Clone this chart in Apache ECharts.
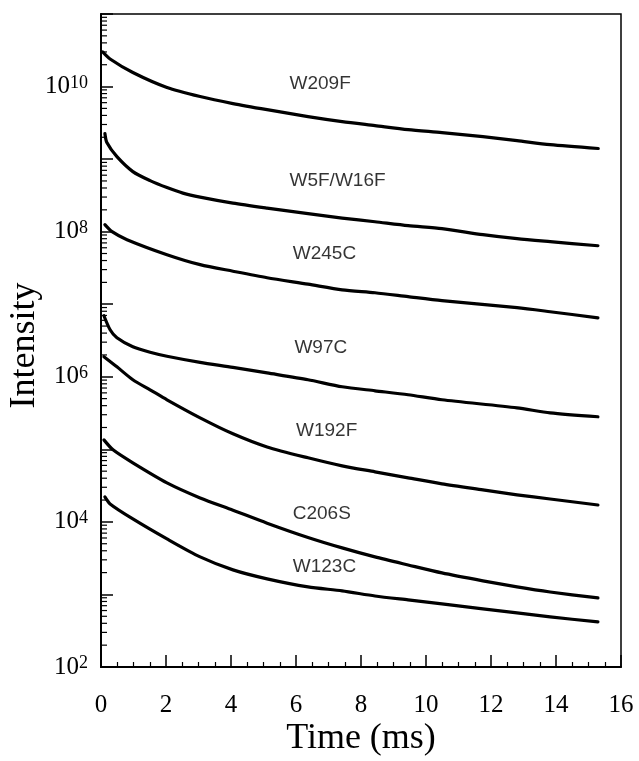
<!DOCTYPE html>
<html><head><meta charset="utf-8">
<script src="https://cdn.jsdelivr.net/npm/echarts@6/dist/echarts.min.js"></script>
<style>html,body{margin:0;padding:0;background:#fff}#c{width:639px;height:761px}</style>
</head><body><div id="c"></div>
<script>
// Data (time in ms, intensity)
const seriesNames = ['W209F', 'W5F/W16F', 'W245C', 'W97C', 'W192F', 'C206S', 'W123C'];
const W209F = [[0.05,3.0e10],[0.28,2.4e10],[0.98,1.56e10],[2.03,9.7e9],[3.05,7.28e9],[4.06,5.83e9],[5.11,4.8e9],[6.37,3.86e9],[7.42,3.29e9],[8.43,2.9e9],[9.45,2.55e9],[10.49,2.32e9],[11.75,2.04e9],[12.8,1.8e9],[13.82,1.58e9],[15.3,1.4e9]];
const W5F_W16F = [[0.12,2.25e9],[0.18,1.69e9],[0.49,1.08e9],[0.98,6.73e8],[1.51,5.05e8],[2.03,4.05e8],[2.52,3.4e8],[3.05,2.99e8],[4.06,2.47e8],[5.11,2.11e8],[6.37,1.77e8],[7.42,1.54e8],[8.43,1.37e8],[9.45,1.21e8],[10.49,1.1e8],[11.75,9.1e7],[12.8,8.0e7],[13.82,7.28e7],[15.29,6.4e7]];
const W245C = [[0.12,1.25e8],[0.34,1.0e8],[0.8,7.76e7],[2.03,4.82e7],[3.05,3.51e7],[4.06,2.85e7],[5.11,2.32e7],[6.37,1.89e7],[7.42,1.58e7],[8.43,1.44e7],[9.45,1.27e7],[10.49,1.12e7],[12.8,8.95e6],[13.82,7.88e6],[15.29,6.5e6]];
const W97C = [[0.09,6.94e6],[0.28,4.45e6],[0.49,3.45e6],[0.98,2.59e6],[1.51,2.18e6],[2.03,1.92e6],[3.05,1.58e6],[4.06,1.35e6],[5.11,1.13e6],[6.37,9.1e5],[7.42,7.28e5],[8.43,6.41e5],[9.45,5.65e5],[10.49,4.82e5],[12.8,3.73e5],[13.82,3.18e5],[15.29,2.81e5]];
const W192F = [[0.09,1.89e6],[0.49,1.37e6],[0.98,9.1e5],[1.51,6.62e5],[2.03,4.82e5],[3.05,2.72e5],[4.06,1.64e5],[5.11,1.08e5],[6.37,7.64e4],[7.42,5.92e4],[8.43,4.9e4],[9.45,4.05e4],[10.49,3.34e4],[11.75,2.76e4],[12.8,2.36e4],[13.82,2.07e4],[15.29,1.71e4]];
const C206S = [[0.09,1.35e5],[0.37,9.84e4],[0.98,6.51e4],[2.03,3.45e4],[3.05,2.14e4],[4.06,1.45e4],[5.11,9.6e3],[6.37,6.1e3],[7.42,4.38e3],[8.43,3.29e3],[9.45,2.55e3],[10.49,1.98e3],[11.75,1.54e3],[12.8,1.27e3],[13.82,1.08e3],[15.29,8.95e2]];
const W123C = [[0.12,2.21e4],[0.28,1.77e4],[0.98,1.1e4],[2.03,5.83e3],[3.05,3.29e3],[4.06,2.18e3],[5.11,1.64e3],[6.37,1.27e3],[7.42,1.12e3],[8.43,9.53e2],[9.45,8.4e2],[10.49,7.4e2],[11.75,6.31e2],[12.8,5.56e2],[13.82,4.9e2],[15.29,4.18e2]];
const seriesData = [W209F, W5F_W16F, W245C, W97C, W192F, C206S, W123C];
// label anchor positions (time ms, intensity) for curve names
const labelTime = [5.8, 5.8, 5.9, 5.95, 6.0, 5.9, 5.9];
const labelValue = [1.1e10, 5.0e8, 5.0e7, 2.5e6, 1.8e5, 1.3e4, 2.4e3];
const xTickLabels = [0, 2, 4, 6, 8, 10, 12, 14, 16];
const yMinorMult = [2, 3, 4, 5, 6, 7, 8, 9];

const minorTicks = [];
for (let d = 2; d < 11; d++) yMinorMult.forEach(m => minorTicks.push([0, m * Math.pow(10, d)]));

const chart = echarts.init(document.getElementById('c'), null, {renderer: 'canvas'});
const serif = '"Liberation Serif", "Times New Roman", serif';
const series = seriesData.map((d, i) => ({
  name: seriesNames[i], type: 'line', data: d, showSymbol: false, symbol: 'none',
  smooth: 0.25, lineStyle: {color: '#000', width: 3.2, join: 'round', cap: 'round'}, silent: true, z: 3
}));
series.push({
  type: 'custom', silent: true, data: minorTicks, z: 4, clip: false,
  renderItem(params, api) {
    const p = api.coord([0, api.value(1)]);
    return {type: 'line', shape: {x1: p[0], y1: p[1], x2: p[0] + 6, y2: p[1]}, style: {stroke: '#000', lineWidth: 1.2}};
  }
});
series.push({
  type: 'scatter', silent: true, symbolSize: 0, z: 5,
  data: seriesNames.map((n, i) => [labelTime[i], labelValue[i], n]),
  label: {show: true, position: 'right', distance: 0, formatter: p => p.data[2], color: '#000',
    fontFamily: '"Liberation Sans", Arial, sans-serif', fontSize: 19}
});

chart.setOption({
  animation: false,
  backgroundColor: '#fff',
  grid: {left: 101, right: 18, top: 14, bottom: 94, show: true, borderColor: '#000', borderWidth: 1.5,
    containLabel: false, outerBoundsMode: 'none'},
  xAxis: {
    type: 'value', min: 0, max: 16, interval: 2,
    name: 'Time (ms)', nameLocation: 'middle', nameGap: 54, nameMoveOverlap: false,
    nameTextStyle: {fontFamily: serif, fontSize: 36, color: '#000'},
    axisLine: {lineStyle: {color: '#000', width: 2}},
    axisTick: {inside: true, length: 12, lineStyle: {color: '#000', width: 1.5}},
    minorTick: {show: true, splitNumber: 4, length: 5, lineStyle: {color: '#000', width: 1.2}},
    splitLine: {show: false},
    axisLabel: {fontFamily: serif, fontSize: 25, color: '#000', margin: 26}
  },
  yAxis: {
    type: 'log', logBase: 10, min: 100, max: 1e11,
    name: 'Intensity', nameLocation: 'middle', nameGap: 58, nameMoveOverlap: false,
    nameTextStyle: {fontFamily: serif, fontSize: 36, color: '#000', padding: [0, 10, 0, 0]},
    axisLine: {lineStyle: {color: '#000', width: 2}},
    axisTick: {inside: true, length: 12, lineStyle: {color: '#000', width: 1.5}},
    splitLine: {show: false},
    axisLabel: {
      margin: 13, color: '#000',
      formatter: v => { const e = Math.round(Math.log10(v)); return (e % 2 === 0 && e < 11) ? '{a|10}{b|' + e + '}' : ''; },
      rich: {
        a: {fontFamily: serif, fontSize: 25, color: '#000', lineHeight: 25},
        b: {fontFamily: serif, fontSize: 18, color: '#000', verticalAlign: 'top', lineHeight: 18, padding: [0, 0, 10, 0]}
      }
    }
  },
  series
});
</script></body></html>
